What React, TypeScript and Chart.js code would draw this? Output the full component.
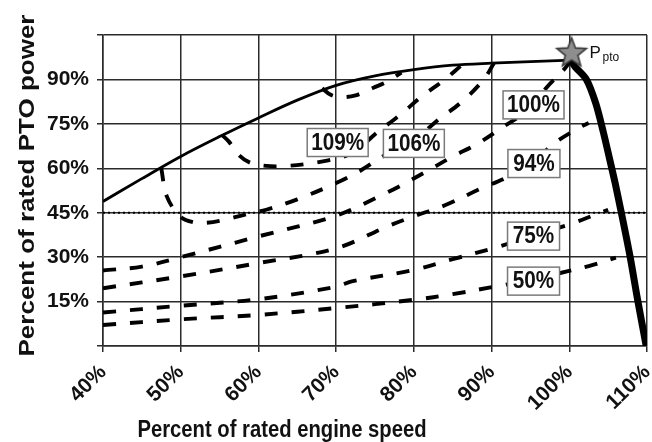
import React, { useEffect, useRef } from 'react';
import { Chart, registerables } from 'chart.js';

Chart.register(...registerables);

const FONT = "'Liberation Sans', Arial, Helvetica, sans-serif";

// Tick values (percent)
const xTickValues = [40, 50, 60, 70, 80, 90, 100, 110];
const yTickValues = [15, 30, 45, 60, 75, 90];

const xAxisTitle = 'Percent of rated engine speed';
const yAxisTitle = 'Percent of rated PTO power';

// Maximum PTO power curve (solid)
const envelopeX = [40, 45, 50, 55, 60, 65, 70, 75, 80, 85, 90, 95, 100.2];
const envelopeY = [48.8, 56.5, 64, 70.7, 77, 83, 88, 91.2, 93.3, 94.8, 95.5, 96, 96.5];

// Governor run-out (thick solid)
const governorX = [100.2, 100.74, 102.2, 103.4, 104.4, 105.2, 105.9, 106.7, 107.8, 108.8, 109.9];
const governorY = [96.5, 94.3, 90, 82, 72, 63, 55, 45, 30.5, 15.5, 0];

// Dashed iso-lines
const line100X = [40, 45, 50, 60, 70, 75.6, 78.2, 82, 85, 88, 91.5, 95.4, 97, 99.7, 100.3];
const line100Y = [25.5, 26.8, 30, 37, 44, 50.6, 54, 59.5, 64, 68, 74, 81, 87, 94.6, 98.5];

const line94X = [40, 50, 60, 70, 76.7, 80, 84, 88.5, 92, 95.5, 98.2, 101.5, 102.5];
const line94Y = [19.5, 23.5, 28, 33, 40.5, 43.8, 47.5, 53, 57, 62.5, 68.7, 74, 75.3];

const line75X = [40, 50, 60, 70, 72, 80, 85, 90.2, 95.4, 100.5, 103, 105];
const line75Y = [11.3, 13.6, 15.8, 20, 21.8, 25.7, 29.3, 33, 37.3, 41.5, 44, 46];

const line50X = [40, 50, 60, 70, 80, 85, 90.3, 95.4, 99.7, 102.5, 106];
const line50Y = [7.1, 9, 10.5, 12.8, 15.6, 17.5, 20, 22.5, 25.2, 27, 29.8];

const loop106X = [47.5, 48.2, 49.9, 51.6, 53.3, 55.5, 58.5, 61, 65, 70, 73, 76, 80, 83.2, 86.2, 89, 90.3];
const loop106Y = [60, 50.6, 43.8, 41.8, 41.6, 42.5, 44.5, 46, 49.5, 55, 59, 64, 69.5, 76.5, 82.5, 90, 95.5];

const loop109X = [55.3, 56.2, 57.6, 59, 61, 63, 66, 69, 71.5, 73.5, 75, 78.2, 81, 84, 86];
const loop109Y = [71.3, 69, 64.2, 61.8, 60.8, 60.7, 61.4, 62.7, 64.5, 68, 71.5, 78, 84.2, 90, 94.5];

const loopInnerX = [68.2, 69.3, 70.5, 72.5, 74.8, 76.6, 78.4];
const loopInnerY = [87, 84.8, 84, 84.6, 87.2, 89.3, 92.3];

// Reference 45% line (dotted)
const refX = [40, 110];
const refY = [45, 45];

// Rated PTO point (star)
const ratedX = [100.3];
const ratedY = [99];

// Boxed labels
const labelTexts = ['109%', '106%', '100%', '94%', '75%', '50%'];
const labelX = [70.2, 80.0, 95.4, 95.45, 95.4, 95.4];
const labelY = [68.7, 68.4, 81.4, 61.6, 37.1, 21.9];

const pts = (xs: number[], ys: number[]) => xs.map((x, i) => ({ x, y: ys[i] }));

function makeStar(): HTMLCanvasElement {
  const c = document.createElement('canvas');
  c.width = 36;
  c.height = 36;
  const g = c.getContext('2d')!;
  const R = 15.5, r = 6.6, cx = 18, cy = 18.5;
  g.beginPath();
  for (let i = 0; i < 10; i++) {
    const rad = i % 2 === 0 ? R : r;
    const a = -Math.PI / 2 + (i * Math.PI) / 5;
    const px = cx + rad * Math.cos(a);
    const py = cy + rad * Math.sin(a);
    if (i === 0) g.moveTo(px, py);
    else g.lineTo(px, py);
  }
  g.closePath();
  g.fillStyle = '#8e8e8e';
  g.fill();
  g.lineWidth = 1.6;
  g.strokeStyle = '#3a3a3a';
  g.stroke();
  return c;
}

const overlayPlugin = {
  id: 'overlay',
  afterDatasetsDraw(chart: any) {
    const { ctx } = chart;
    const xs = chart.scales.x;
    const ys = chart.scales.y;
    ctx.save();
    ctx.font = `bold 23px ${FONT}`;
    labelTexts.forEach((t, i) => {
      const cx = xs.getPixelForValue(labelX[i]);
      const cy = ys.getPixelForValue(labelY[i]);
      const tw = ctx.measureText(t).width * 0.9;
      const w = Math.max(tw + 8, 52);
      const h = 28;
      ctx.fillStyle = '#ffffff';
      ctx.fillRect(cx - w / 2, cy - h / 2, w, h);
      ctx.strokeStyle = '#7a7a7a';
      ctx.lineWidth = 1.5;
      ctx.strokeRect(cx - w / 2, cy - h / 2, w, h);
      ctx.save();
      ctx.translate(cx, cy + 1);
      ctx.scale(0.9, 1);
      ctx.fillStyle = '#111';
      ctx.textAlign = 'center';
      ctx.textBaseline = 'middle';
      ctx.fillText(t, 0, 0);
      ctx.restore();
    });
    // P_pto label next to star
    const sx = xs.getPixelForValue(ratedX[0]);
    const sy = ys.getPixelForValue(ratedY[0]);
    ctx.fillStyle = '#111';
    ctx.textAlign = 'left';
    ctx.textBaseline = 'alphabetic';
    ctx.font = `17px ${FONT}`;
    ctx.fillText('P', sx + 18, sy + 5.5);
    ctx.font = `12px ${FONT}`;
    ctx.fillText('pto', sx + 31, sy + 8);
    ctx.restore();
  },
  afterDraw(chart: any) {
    const { ctx, chartArea } = chart;
    ctx.save();
    ctx.fillStyle = '#111';
    // x axis title
    ctx.save();
    ctx.translate(chartArea.left + 179, chart.height - 5);
    ctx.scale(0.88, 1);
    ctx.font = `bold 23px ${FONT}`;
    ctx.textAlign = 'center';
    ctx.textBaseline = 'alphabetic';
    ctx.fillText(xAxisTitle, 0, 0);
    ctx.restore();
    // y axis title
    ctx.save();
    ctx.translate(34, (chartArea.top + chartArea.bottom) / 2 - 5);
    ctx.rotate(-Math.PI / 2);
    ctx.scale(1, 0.88);
    ctx.font = `bold 26px ${FONT}`;
    ctx.textAlign = 'center';
    ctx.textBaseline = 'alphabetic';
    ctx.fillText(yAxisTitle, 0, 0);
    ctx.restore();
    ctx.restore();
  },
};

export default function App() {
  const ref = useRef<HTMLCanvasElement | null>(null);

  useEffect(() => {
    if (!ref.current) return;
    const star = makeStar();
    const dashed = (xs: number[], ys: number[]) => ({
      data: pts(xs, ys),
      showLine: true,
      borderColor: '#000',
      borderWidth: 3.9,
      borderDash: [13, 14],
      tension: 0.35,
      pointRadius: 0,
      fill: false,
      order: 5,
    });
    const gridColor = '#2b2b2b';
    const tickFont = { family: FONT, size: 21, weight: 'bold' as const };

    const chart = new Chart(ref.current, {
      type: 'scatter',
      data: {
        datasets: [
          {
            data: pts(ratedX, ratedY),
            pointStyle: star as any,
            pointRadius: 15,
            showLine: false,
            order: 0,
          } as any,
          {
            data: pts(governorX, governorY),
            showLine: true,
            borderColor: '#000',
            borderWidth: 7,
            tension: 0.3,
            pointRadius: 0,
            order: 1,
          },
          {
            data: pts(envelopeX, envelopeY),
            showLine: true,
            borderColor: '#000',
            borderWidth: 2.8,
            tension: 0.35,
            pointRadius: 0,
            order: 2,
          },
          dashed(line100X, line100Y),
          dashed(line94X, line94Y),
          dashed(line75X, line75Y),
          dashed(line50X, line50Y),
          dashed(loop106X, loop106Y),
          dashed(loop109X, loop109Y),
          dashed(loopInnerX, loopInnerY),
          {
            data: pts(refX, refY),
            showLine: true,
            borderColor: '#000',
            borderWidth: 2,
            borderDash: [2, 3],
            tension: 0,
            pointRadius: 0,
            order: 6,
          },
        ],
      },
      options: {
        animation: false,
        responsive: true,
        maintainAspectRatio: false,
        events: [],
        layout: { autoPadding: false, padding: { top: 35, right: 5, left: 0, bottom: 0 } },
        plugins: { legend: { display: false }, tooltip: { enabled: false } },
        scales: {
          x: {
            type: 'linear',
            min: 40,
            max: 110,
            ticks: {
              stepSize: 10,
              autoSkip: false,
              minRotation: 45,
              maxRotation: 45,
              padding: 8,
              color: '#111',
              font: tickFont,
              callback: (v: any) => (xTickValues.includes(Number(v)) ? `${v}%` : ''),
            },
            grid: { color: gridColor, lineWidth: 1.5, tickLength: 6 },
            border: { color: gridColor, width: 1.5 },
            afterFit: (s: any) => {
              s.height = 96;
              s.paddingLeft = 0;
              s.paddingRight = 0;
            },
          },
          y: {
            type: 'linear',
            min: 0,
            max: 105,
            ticks: {
              stepSize: 15,
              padding: 8,
              color: '#111',
              font: tickFont,
              callback: (v: any) => (yTickValues.includes(Number(v)) ? `${v}%` : ''),
            },
            grid: { color: gridColor, lineWidth: 1.5, tickLength: 6 },
            border: { color: gridColor, width: 1.5 },
            afterFit: (s: any) => {
              s.width = 103;
              s.paddingTop = 0;
              s.paddingBottom = 0;
            },
          },
        },
      },
      plugins: [overlayPlugin],
    } as any);

    return () => chart.destroy();
  }, []);

  return (
    <div style={{ position: 'fixed', left: 0, top: 0, width: 652, height: 442, background: '#fff' }}>
      <canvas ref={ref} />
    </div>
  );
}
